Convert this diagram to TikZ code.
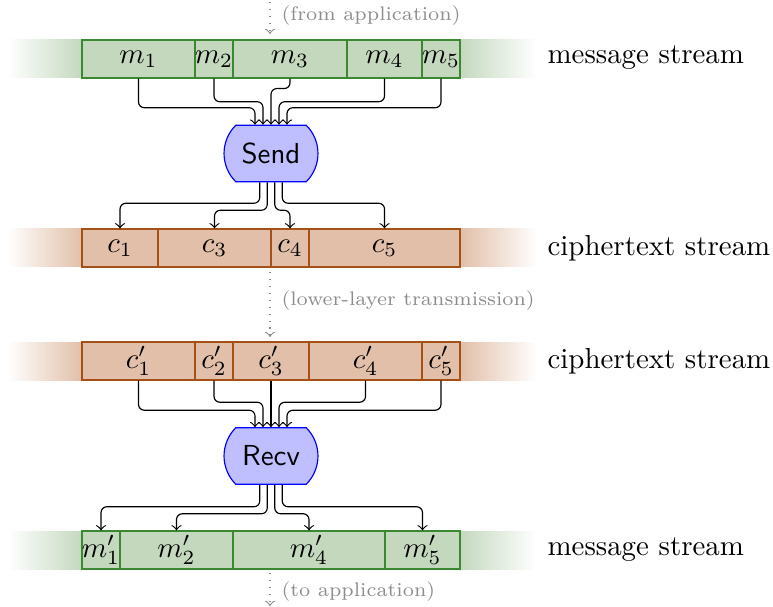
\documentclass[tikz,border=0pt]{standalone}
\usetikzlibrary{shapes.misc,fit,calc}
\definecolor{gfill}{RGB}{196,216,190}
\definecolor{gdraw}{RGB}{60,135,50}
\definecolor{bfill}{RGB}{225,191,168}
\definecolor{bdraw}{RGB}{165,80,20}
\definecolor{pfill}{RGB}{191,191,255}
\begin{document}
\begin{tikzpicture}[x=0.346pt,y=-0.346pt,
 gcell/.style={draw=gdraw, fill=gfill, inner sep=0pt, line width=0.4pt},
 bcell/.style={draw=bdraw, fill=bfill, inner sep=0pt, line width=0.4pt},
 proc/.style={rounded rectangle, rounded rectangle arc length=90, draw=blue, fill=pfill, font=\sffamily, minimum width=32.5pt, minimum height=19.5pt, inner sep=0pt},
 flow/.style={->, rounded corners=2pt, line width=0.4pt},
 feed/.style={->, dotted, draw=black!45},
 note/.style={text=black!45, font=\fontsize{6.8}{8}\selectfont, anchor=west, inner sep=0pt},
 side/.style={anchor=west, inner sep=0pt}]
\useasboundingbox (0,0) rectangle (773,607);

% ---------- top message stream ----------
\shade[left color=white, right color=gfill] (8,40) rectangle (82,78);
\shade[left color=gfill, right color=white] (460,40) rectangle (537,78);
\node[gcell, fit={(82,40)(195,78)}, label=center:$m_1$] (m1) {};
\node[gcell, fit={(195,40)(233,78)}, label=center:$m_2$] (m2) {};
\node[gcell, fit={(233,40)(347,78)}, label=center:$m_3$] (m3) {};
\node[gcell, fit={(347,40)(422,78)}, label=center:$m_4$] (m4) {};
\node[gcell, fit={(422,40)(460,78)}, label=center:$m_5$] (m5) {};
\node[side] (lab1) at (547,58) {message stream};

\coordinate (inA) at (270,2);
\coordinate (inB) at (270,34);
\draw[feed] (inA) -- (inB);
\node[note] (inlab) at (281,16) {(from application)};

% ---------- Send ----------
\node[proc] (send) at (271,153.5) {Send};
\draw[flow] (m1.south) |- ($(send.north)+(-16,-17)$) -- ($(send.north)+(-16,0)$);
\draw[flow] (m2.south) |- ($(send.north)+(-8,-23)$) -- ($(send.north)+(-8,0)$);
\draw[flow] (m3.south) -- ++(0,10) -| (send.north);
\draw[flow] (m4.south) |- ($(send.north)+(8,-23)$) -- ($(send.north)+(8,0)$);
\draw[flow] (m5.south) |- ($(send.north)+(16,-17)$) -- ($(send.north)+(16,0)$);

% ---------- ciphertext stream 1 ----------
\shade[left color=white, right color=bfill] (8,229) rectangle (82,267);
\shade[left color=bfill, right color=white] (460,229) rectangle (537,267);
\node[bcell, fit={(82,229)(158,267)}, label=center:$c_1$] (c1) {};
\node[bcell, fit={(158,229)(271,267)}, label=center:$c_3$] (c3) {};
\node[bcell, fit={(271,229)(309,267)}, label=center:$c_4$] (c4) {};
\node[bcell, fit={(309,229)(460,267)}, label=center:$c_5$] (c5) {};
\node[side] (lab2) at (547,248) {ciphertext stream};

\draw[flow] ($(send.south)+(-11.25,0)$) -- ++(0,21) -| (c1.north);
\draw[flow] ($(send.south)+(-3.75,0)$) -- ++(0,28) -| (c3.north);
\draw[flow] ($(send.south)+(3.75,0)$) -- ++(0,28) -| (c4.north);
\draw[flow] ($(send.south)+(11.25,0)$) -- ++(0,21) -| (c5.north);

\coordinate (midA) at (270,272);
\coordinate (midB) at (270,337);
\draw[feed] (midA) -- (midB);
\node[note] (midlab) at (281,301) {(lower-layer transmission)};

% ---------- ciphertext stream 2 ----------
\shade[left color=white, right color=bfill] (8,342) rectangle (82,380);
\shade[left color=bfill, right color=white] (460,342) rectangle (537,380);
\node[bcell, fit={(82,342)(195,380)}, label=center:$c'_1$] (cp1) {};
\node[bcell, fit={(195,342)(233,380)}, label=center:$c'_2$] (cp2) {};
\node[bcell, fit={(233,342)(309,380)}, label=center:$c'_3$] (cp3) {};
\node[bcell, fit={(309,342)(422,380)}, label=center:$c'_4$] (cp4) {};
\node[bcell, fit={(422,342)(460,380)}, label=center:$c'_5$] (cp5) {};
\node[side] (lab3) at (547,361) {ciphertext stream};

% ---------- Recv ----------
\node[proc] (recv) at (271,456) {Recv};
\draw[flow] (cp1.south) |- ($(recv.north)+(-16,-17)$) -- ($(recv.north)+(-16,0)$);
\draw[flow] (cp2.south) |- ($(recv.north)+(-8,-25)$) -- ($(recv.north)+(-8,0)$);
\draw[flow] (cp3.south) -- (recv.north);
\draw[flow] (cp4.south) |- ($(recv.north)+(8,-25)$) -- ($(recv.north)+(8,0)$);
\draw[flow] (cp5.south) |- ($(recv.north)+(16,-17)$) -- ($(recv.north)+(16,0)$);

% ---------- bottom message stream ----------
\shade[left color=white, right color=gfill] (8,531) rectangle (82,569);
\shade[left color=gfill, right color=white] (460,531) rectangle (537,569);
\node[gcell, fit={(82,531)(120,569)}, label=center:$m'_1$] (mp1) {};
\node[gcell, fit={(120,531)(233,569)}, label=center:$m'_2$] (mp2) {};
\node[gcell, fit={(233,531)(385,569)}, label=center:$m'_4$] (mp4) {};
\node[gcell, fit={(385,531)(460,569)}, label=center:$m'_5$] (mp5) {};
\node[side] (lab4) at (547,550) {message stream};

\draw[flow] ($(recv.south)+(-11.25,0)$) -- ++(0,22) -| (mp1.north);
\draw[flow] ($(recv.south)+(-3.75,0)$) -- ++(0,29) -| (mp2.north);
\draw[flow] ($(recv.south)+(3.75,0)$) -- ++(0,29) -| (mp4.north);
\draw[flow] ($(recv.south)+(11.25,0)$) -- ++(0,22) -| (mp5.north);

\coordinate (outA) at (270,573);
\coordinate (outB) at (270,606);
\draw[feed] (outA) -- (outB);
\node[note] (outlab) at (281,592) {(to application)};
\end{tikzpicture}
\end{document}
